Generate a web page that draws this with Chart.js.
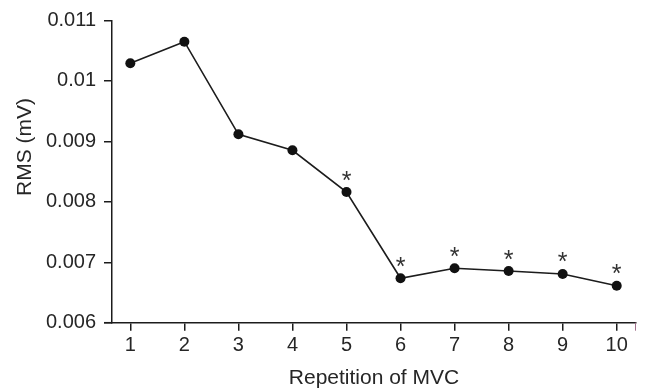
<!DOCTYPE html>
<html>
<head>
<meta charset="utf-8">
<script src="https://cdn.jsdelivr.net/npm/chart.js@4/dist/chart.umd.min.js"></script>
<style>
  html, body { margin: 0; padding: 0; background: #ffffff; }
  #wrap { width: 645px; height: 388px; }
</style>
</head>
<body>
<div id="wrap"><canvas id="c" width="645" height="388"></canvas></div>
<script>
// ---- data ----
const repetitions = [1, 2, 3, 4, 5, 6, 7, 8, 9, 10];
const rmsValues = [0.010292, 0.010649, 0.009117, 0.008852, 0.008162, 0.006735, 0.006900, 0.006855, 0.006806, 0.006612];
const significant = [false, false, false, false, true, true, true, true, true, true];
const yTickValues = [0.006, 0.007, 0.008, 0.009, 0.010, 0.011];
const yTickLabels = ['0.006', '0.007', '0.008', '0.009', '0.01', '0.011'];
const xTitle = 'Repetition of MVC';
const yTitle = 'RMS (mV)';

const INK = '#1c1c1c';
const TEXT = '#262626';
const FONT = '"Liberation Sans", Arial, Helvetica, sans-serif';

const extras = {
  id: 'extras',
  afterDraw(chart) {
    const ctx = chart.ctx;
    const xs = chart.scales.x, ys = chart.scales.y;
    const area = chart.chartArea;
    ctx.save();
    // x-axis line extends slightly left of the y axis
    ctx.strokeStyle = INK;
    ctx.lineWidth = 1.5;
    ctx.beginPath();
    ctx.moveTo(area.left - 8, area.bottom);
    ctx.lineTo(area.left, area.bottom);
    ctx.stroke();
    // small mark at the right end of the x axis
    ctx.strokeStyle = '#a0708c';
    ctx.lineWidth = 1;
    ctx.beginPath();
    ctx.moveTo(area.right - 0.5, area.bottom);
    ctx.lineTo(area.right - 0.5, area.bottom + 8);
    ctx.stroke();
    // significance asterisks
    ctx.fillStyle = '#333333';
    ctx.font = '25px ' + FONT;
    ctx.textAlign = 'center';
    ctx.textBaseline = 'alphabetic';
    repetitions.forEach((r, i) => {
      if (!significant[i]) return;
      const px = xs.getPixelForValue(r);
      const py = ys.getPixelForValue(rmsValues[i]);
      ctx.fillText('*', px, py - 18 + 14.5);
    });
    // y-axis title
    ctx.fillStyle = TEXT;
    ctx.font = '21px ' + FONT;
    ctx.textBaseline = 'middle';
    ctx.translate(25, 147);
    ctx.rotate(-Math.PI / 2);
    ctx.fillText(yTitle, 0, 0);
    ctx.restore();
  }
};

new Chart(document.getElementById('c'), {
  type: 'line',
  data: {
    datasets: [{
      data: repetitions.map((r, i) => ({ x: r, y: rmsValues[i] })),
      borderColor: INK,
      borderWidth: 1.6,
      backgroundColor: INK,
      pointBackgroundColor: '#111111',
      pointBorderColor: '#111111',
      pointRadius: 5,
      pointBorderWidth: 0,
      tension: 0,
      clip: false
    }]
  },
  options: {
    responsive: false,
    animation: false,
    devicePixelRatio: 1,
    layout: { padding: { top: 20.5, right: 9, left: 0, bottom: 0 } },
    plugins: { legend: { display: false }, tooltip: { enabled: false } },
    scales: {
      x: {
        type: 'linear',
        min: 0.661,
        max: 10.357,
        afterBuildTicks(scale) { scale.ticks = repetitions.map(v => ({ value: v })); },
        afterFit(scale) { scale.height = 65.3; },
        border: { display: true, color: INK, width: 1.5 },
        grid: { display: true, drawOnChartArea: false, drawTicks: true, tickLength: 8, tickColor: INK, lineWidth: 1.5 },
        ticks: {
          color: TEXT,
          font: { family: FONT, size: 20 },
          padding: 3,
          maxRotation: 0,
          autoSkip: false,
          callback: (v) => String(v)
        },
        title: {
          display: true,
          text: xTitle,
          color: TEXT,
          font: { family: FONT, size: 21, lineHeight: 0.9 },
          padding: { top: 0, bottom: 0 }
        }
      },
      y: {
        type: 'linear',
        min: 0.006,
        max: 0.011,
        afterBuildTicks(scale) { scale.ticks = yTickValues.map(v => ({ value: v })); },
        afterFit(scale) { scale.width = 112; },
        border: { display: true, color: INK, width: 1.5 },
        grid: { display: true, drawOnChartArea: false, drawTicks: true, tickLength: 8, tickColor: INK, lineWidth: 1.5 },
        ticks: {
          color: TEXT,
          font: { family: FONT, size: 20 },
          padding: 8,
          autoSkip: false,
          callback: (v, i) => yTickLabels[i]
        },
        title: { display: false }
      }
    }
  },
  plugins: [extras]
});
</script>
</body>
</html>
